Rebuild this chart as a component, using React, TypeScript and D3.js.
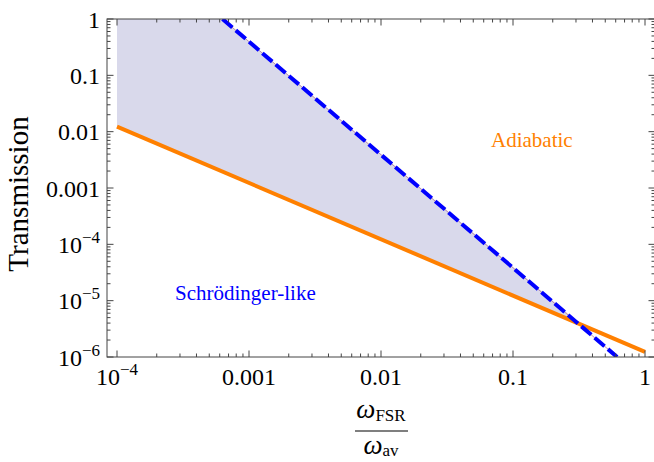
import React, { useEffect, useRef } from "react";
import * as d3 from "d3";

// x ticks (omega_FSR / omega_av) and y ticks (transmission)
const xTickValues = [1e-4, 1e-3, 1e-2, 1e-1, 1];
const xTickLabels = ["10^−4", "0.001", "0.01", "0.1", "1"];
const yTickValues = [1, 0.1, 0.01, 0.001, 1e-4, 1e-5, 1e-6];
const yTickLabels = ["1", "0.1", "0.01", "0.001", "10^−4", "10^−5", "10^−6"];

// adiabatic limit (orange solid)
const adiabaticX = [1e-4, 1];
const adiabaticT = [0.0123, 1.23e-6];

// schrodinger-like limit (blue dashed)
const schrodingerX = [6.3e-4, 0.615];
const schrodingerT = [1, 1e-6];

// shaded region between the two
const regionX = [1e-4, 6.3e-4, 0.33, 1e-4];
const regionT = [1, 1, 3.7e-6, 0.0123];

const SERIF = "'Liberation Serif', 'Times New Roman', serif";

function App() {
    const chartRef = useRef<HTMLDivElement>(null);

    useEffect(() => {
        const width = 654;
        const height = 462;
        const frameLeft = 107;
        const frameRight = 655;
        const frameTop = 19;
        const frameBottom = 357;

        const x = d3.scaleLog().domain([1e-4, 1]).range([117, 645]);
        const y = d3.scaleLog().domain([1e-6, 1]).range([frameBottom, frameTop]);

        const existing = d3.select(chartRef.current).select("svg");
        if (!existing.empty()) existing.remove();

        const svg = d3.select(chartRef.current)
            .append("svg")
            .attr("width", width)
            .attr("height", height)
            .attr("viewBox", [0, 0, width, height])
            .style("position", "absolute")
            .style("left", "0px")
            .style("top", "0px")
            .style("background", "#fff");

        svg.append("defs").append("clipPath").attr("id", "plotclip")
            .append("rect")
            .attr("x", frameLeft).attr("y", frameTop)
            .attr("width", frameRight - frameLeft).attr("height", frameBottom - frameTop);

        const plot = svg.append("g").attr("clip-path", "url(#plotclip)");

        const line = d3.line<[number, number]>()
            .x(d => x(d[0]))
            .y(d => y(d[1]));

        // shaded region
        plot.append("path")
            .attr("d", line(regionX.map((v, i) => [v, regionT[i]]) as [number, number][]) + "Z")
            .attr("fill", "#d9d9eb")
            .attr("stroke", "none");

        // thin edge under the dashed line
        plot.append("path")
            .attr("d", line(schrodingerX.map((v, i) => [v, schrodingerT[i]]) as [number, number][]))
            .attr("fill", "none")
            .attr("stroke", "#b07a9a")
            .attr("stroke-width", 0.8);

        // adiabatic line
        plot.append("path")
            .attr("d", line(adiabaticX.map((v, i) => [v, adiabaticT[i]]) as [number, number][]))
            .attr("fill", "none")
            .attr("stroke", "#ff8000")
            .attr("stroke-width", 4);

        // schrodinger dashed line
        plot.append("path")
            .attr("d", line(schrodingerX.map((v, i) => [v, schrodingerT[i]]) as [number, number][]))
            .attr("fill", "none")
            .attr("stroke", "#0000ff")
            .attr("stroke-width", 4)
            .attr("stroke-dasharray", "13,4.5");

        // frame
        const axisColor = "#444";
        svg.append("rect")
            .attr("x", frameLeft).attr("y", frameTop)
            .attr("width", frameRight - frameLeft).attr("height", frameBottom - frameTop)
            .attr("fill", "none")
            .attr("stroke", axisColor)
            .attr("stroke-width", 1);

        const major = 6.5;
        const minor = 3.5;
        const isMajor = (v: number, list: number[]) => list.some(t => Math.abs(Math.log10(v) - Math.log10(t)) < 1e-6);

        // x ticks, bottom and top
        x.ticks().forEach(v => {
            const len = isMajor(v, xTickValues) ? major : minor;
            const px = x(v);
            svg.append("line").attr("x1", px).attr("x2", px)
                .attr("y1", frameBottom).attr("y2", frameBottom - len)
                .attr("stroke", axisColor);
            svg.append("line").attr("x1", px).attr("x2", px)
                .attr("y1", frameTop).attr("y2", frameTop + len)
                .attr("stroke", axisColor);
        });

        // y ticks, left and right
        y.ticks().forEach(v => {
            const len = isMajor(v, yTickValues) ? major : minor;
            const py = y(v);
            svg.append("line").attr("x1", frameLeft).attr("x2", frameLeft + len)
                .attr("y1", py).attr("y2", py)
                .attr("stroke", axisColor);
            svg.append("line").attr("x1", frameRight).attr("x2", frameRight - len)
                .attr("y1", py).attr("y2", py)
                .attr("stroke", axisColor);
        });

        const addLabel = (sel: any, label: string) => {
            const parts = label.split("^");
            sel.append("tspan").text(parts[0]);
            if (parts.length > 1) {
                sel.append("tspan")
                    .attr("dy", -10)
                    .attr("font-size", 17)
                    .text(parts[1]);
            }
        };

        // x tick labels
        xTickValues.forEach((v, i) => {
            const t = svg.append("text")
                .attr("x", x(v))
                .attr("y", 385)
                .attr("text-anchor", "middle")
                .attr("font-family", SERIF)
                .attr("font-size", 24)
                .attr("fill", "#000");
            addLabel(t, xTickLabels[i]);
        });

        // y tick labels
        yTickValues.forEach((v, i) => {
            const t = svg.append("text")
                .attr("x", 100)
                .attr("y", y(v) + 8.5)
                .attr("text-anchor", "end")
                .attr("font-family", SERIF)
                .attr("font-size", 24)
                .attr("fill", "#000");
            addLabel(t, yTickLabels[i]);
        });

        // y axis label
        svg.append("text")
            .attr("transform", "translate(28,194) rotate(-90)")
            .attr("text-anchor", "middle")
            .attr("font-family", SERIF)
            .attr("font-size", 29)
            .attr("fill", "#000")
            .text("Transmission");

        // x axis label as a fraction
        const fx = 381;
        const num = svg.append("text")
            .attr("x", fx).attr("y", 418)
            .attr("text-anchor", "middle")
            .attr("font-family", SERIF)
            .attr("fill", "#000");
        num.append("tspan").attr("font-size", 27).attr("font-style", "italic").text("ω");
        num.append("tspan").attr("font-size", 17).attr("dy", 3).text("FSR");

        svg.append("line")
            .attr("x1", 355).attr("x2", 408)
            .attr("y1", 431).attr("y2", 431)
            .attr("stroke", "#000").attr("stroke-width", 1.2);

        const den = svg.append("text")
            .attr("x", fx).attr("y", 454)
            .attr("text-anchor", "middle")
            .attr("font-family", SERIF)
            .attr("fill", "#000");
        den.append("tspan").attr("font-size", 27).attr("font-style", "italic").text("ω");
        den.append("tspan").attr("font-size", 17).attr("dy", 2).text("av");

        // region labels
        svg.append("text")
            .attr("x", 491).attr("y", 147)
            .attr("font-family", SERIF)
            .attr("font-size", 21)
            .attr("fill", "#ff8000")
            .text("Adiabatic");

        svg.append("text")
            .attr("x", 175).attr("y", 300)
            .attr("font-family", SERIF)
            .attr("font-size", 21)
            .attr("fill", "#0000ff")
            .text("Schrödinger-like");
    }, []);

    return <div ref={chartRef}></div>;
}

export default App;
